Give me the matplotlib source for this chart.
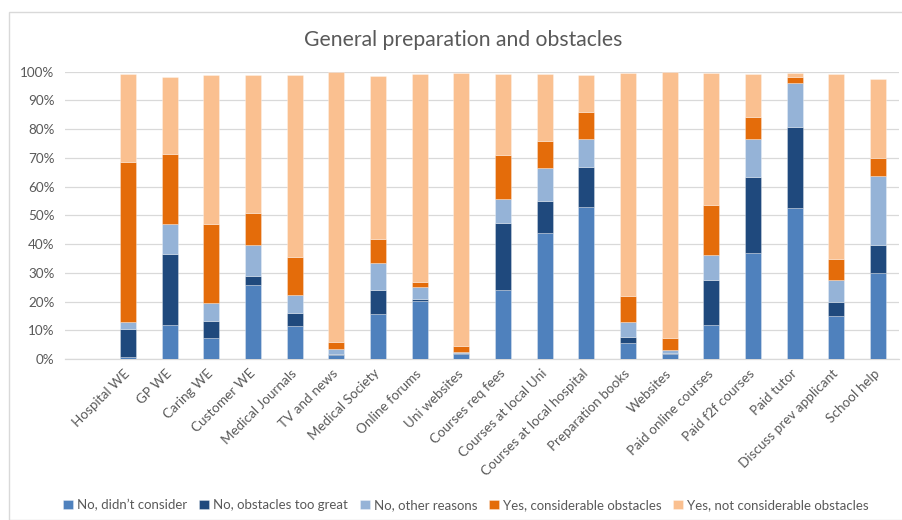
import matplotlib
matplotlib.use("Agg")
import matplotlib.pyplot as plt
import numpy as np
from matplotlib.patches import Rectangle

categories = ["Hospital WE", "GP WE", "Caring WE", "Customer WE", "Medical Journals",
              "TV and news", "Medical Society", "Online forums", "Uni websites",
              "Courses req fees", "Courses at local Uni", "Courses at local hospital",
              "Preparation books", "Websites", "Paid online courses", "Paid f2f courses",
              "Paid tutor", "Discuss prev applicant", "School help"]

series_names = ["No, didn\u2019t consider", "No, obstacles too great", "No, other reasons",
                "Yes, considerable obstacles", "Yes, not considerable obstacles"]

no_didnt_consider = [0.7, 11.8, 7.3, 25.8, 11.5, 1.4, 15.7, 20.3, 1.7, 23.9, 43.7, 52.9,
                     5.6, 1.7, 11.9, 36.9, 52.6, 15.0, 30.0]
no_obstacles_great = [9.9, 24.9, 5.9, 3.0, 4.5, 0.3, 8.3, 0.6, 0.4, 23.5, 11.3, 13.9,
                      2.1, 0.5, 15.6, 26.3, 28.0, 4.8, 9.7]
no_other_reasons = [2.2, 10.2, 6.4, 10.8, 6.2, 1.8, 9.4, 4.0, 0.5, 8.4, 11.6, 9.8,
                    5.2, 0.9, 8.7, 13.4, 15.6, 7.7, 24.0]
yes_considerable = [55.8, 24.6, 27.4, 11.2, 13.2, 2.4, 8.2, 1.9, 1.9, 15.2, 9.2, 9.5,
                    8.9, 4.3, 17.3, 7.7, 1.9, 7.3, 6.3]
yes_not_considerable = [30.6, 26.5, 51.8, 48.0, 63.6, 93.9, 57.0, 72.3, 94.9, 28.1, 23.5, 12.9,
                        77.9, 92.4, 46.2, 15.0, 1.3, 64.4, 27.6]

yticks = [0, 10, 20, 30, 40, 50, 60, 70, 80, 90, 100]
ytick_labels = [f"{v}%" for v in yticks]

colors = ["#4F81BD", "#1F497D", "#95B3D7", "#E46C0A", "#FAC090"]
series = [no_didnt_consider, no_obstacles_great, no_other_reasons, yes_considerable, yes_not_considerable]

plt.rcParams['font.family'] = ['Lato', 'DejaVu Sans']

fig = plt.figure(figsize=(9.03, 5.20), dpi=100)
ax = fig.add_axes([65.5/903, 1-359/520, (898.8-65.5)/903, (359-71.7)/520])

x = np.arange(len(categories))
bottom = np.zeros(len(categories))
for vals, c, name in zip(series, colors, series_names):
    v = np.array(vals)
    ax.bar(x, v, bottom=bottom, width=0.39, color=c, label=name,
           edgecolor=(1, 1, 1, 0.35), linewidth=0.6, zorder=3)
    bottom += v

ax.set_xlim(-1.5, len(categories) - 0.5)
ax.set_ylim(0, 100)
ax.set_yticks(yticks)
ax.set_yticklabels(ytick_labels)
ax.yaxis.grid(True, color="#D9D9D9", linewidth=0.9, zorder=0)
ax.set_axisbelow(True)
for s in ["top", "right", "left"]:
    ax.spines[s].set_visible(False)
ax.spines["bottom"].set_color("#D9D9D9")
ax.spines["bottom"].set_linewidth(0.9)
ax.tick_params(axis="both", length=0, colors="#595959", labelsize=9.7)
ax.tick_params(axis="y", pad=8)
ax.set_xticks(x)
ax.set_xticklabels(categories, rotation=45, ha="right", rotation_mode="anchor", va="center")
ax.tick_params(axis="x", pad=9)

fig.text(463/903, 1-40/520, "General preparation and obstacles", ha="center", va="center",
         fontsize=15.2, color="#595959")

leg = fig.legend(loc="center", bbox_to_anchor=(466/903, 1-505/520), ncol=5, frameon=False,
                 fontsize=9.5, handlelength=0.75, handleheight=0.75, handletextpad=0.3,
                 columnspacing=0.9, labelcolor="#595959")

fig.patches.append(Rectangle((9/903, 0), 1.0, 1-12/520, transform=fig.transFigure,
                             fill=False, edgecolor="#D9D9D9", linewidth=1.0))

fig.savefig("out.png", dpi=100)
